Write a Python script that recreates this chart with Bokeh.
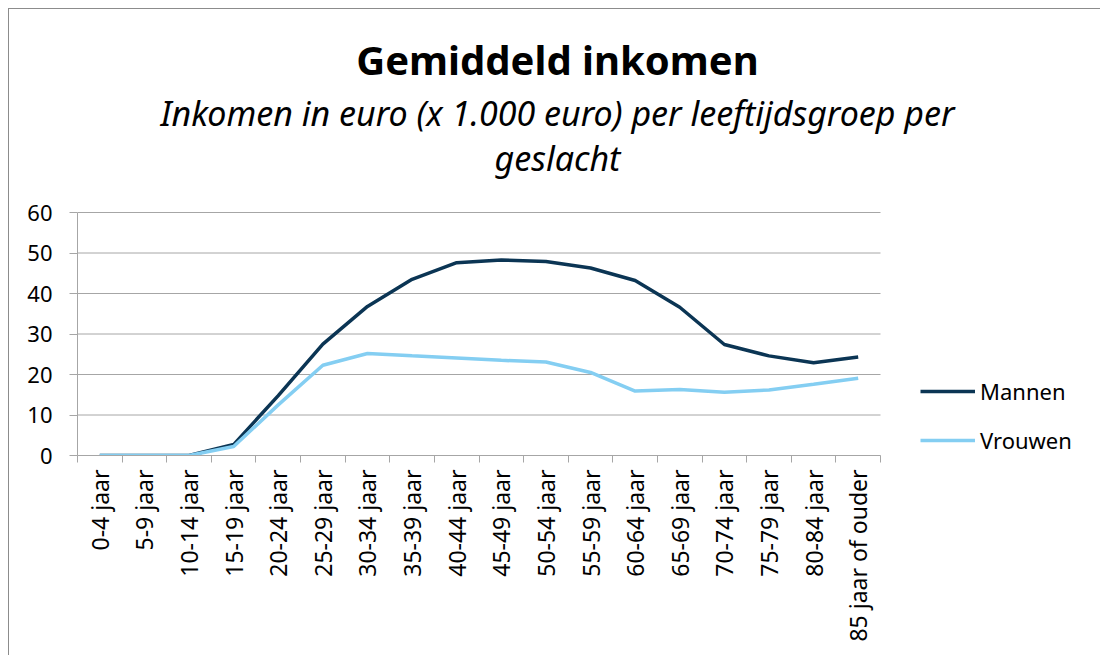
from math import pi
from bokeh.plotting import figure
from bokeh.models import (Range1d, FixedTicker, Legend, LegendItem, Label)
from bokeh.embed import file_html
from bokeh.resources import INLINE

categories = ["0-4 jaar", "5-9 jaar", "10-14 jaar", "15-19 jaar", "20-24 jaar",
              "25-29 jaar", "30-34 jaar", "35-39 jaar", "40-44 jaar", "45-49 jaar",
              "50-54 jaar", "55-59 jaar", "60-64 jaar", "65-69 jaar", "70-74 jaar",
              "75-79 jaar", "80-84 jaar", "85 jaar of ouder"]
mannen = [0.0, 0.0, 0.0, 2.7, 14.8, 27.5, 36.8, 43.5, 47.6, 48.3, 47.9, 46.3,
          43.2, 36.6, 27.4, 24.6, 22.9, 24.3]
vrouwen = [0.0, 0.0, 0.0, 2.2, 12.5, 22.3, 25.2, 24.6, 24.1, 23.5, 23.1, 20.5,
           15.9, 16.3, 15.6, 16.2, 17.6, 19.1]
y_ticks = [0, 10, 20, 30, 40, 50, 60]
title = "Gemiddeld inkomen"
subtitle_lines = ["Inkomen in euro (x 1.000 euro) per leeftijdsgroep per", "geslacht"]

FONT = "Noto Sans"
GRID = "#a6a6a6"

n = len(categories)
xs = [i + 0.5 for i in range(n)]
Y_MAX = y_ticks[-1]

# layout constants (pixels)
PLOT_W = 803          # width of the category area
EXTRA_W = 200         # room on the right for the legend
FRAME_W = PLOT_W + EXTRA_W
PLOT_H = 243          # height of the 0-60 area
TOP_H = 203           # room above the plot area for the titles
FRAME_H = PLOT_H + TOP_H
PX_X = PLOT_W / n     # px per category
PX_Y = PLOT_H / Y_MAX  # px per unit

p = figure(frame_width=FRAME_W, frame_height=FRAME_H, output_backend="svg",
           toolbar_location=None, title=None,
           x_range=Range1d(0, FRAME_W / PX_X), y_range=Range1d(0, FRAME_H / PX_Y),
           min_border_left=68, min_border_right=20, min_border_top=0,
           min_border_bottom=200)
p.styles = {"margin-left": "8px", "margin-top": "8px",
            "border-left": "1px solid #8c8c8c", "border-top": "1px solid #8c8c8c"}
p.outline_line_color = None
p.background_fill_color = "white"
p.border_fill_color = "white"

# titles: centre 480 px right of the plot's left edge; baselines above plot top
cx = 480 / PX_X
p.add_layout(Label(x=cx, y=Y_MAX + 153 / PX_Y, text=title, text_font=FONT,
                   text_font_size="40px", text_font_style="bold",
                   text_color="#000000", text_align="center",
                   text_baseline="alphabetic"))
p.add_layout(Label(x=cx, y=Y_MAX + 100 / PX_Y, text=subtitle_lines[0], text_font=FONT,
                   text_font_size="34px", text_font_style="italic",
                   text_color="#000000", text_align="center",
                   text_baseline="alphabetic"))
p.add_layout(Label(x=cx, y=Y_MAX + 55 / PX_Y, text=subtitle_lines[1], text_font=FONT,
                   text_font_size="34px", text_font_style="italic",
                   text_color="#000000", text_align="center",
                   text_baseline="alphabetic"))

# horizontal gridlines limited to the category area
p.segment(x0=[0] * len(y_ticks), x1=[n] * len(y_ticks), y0=y_ticks, y1=y_ticks,
          line_color=GRID, line_width=1)

l1 = p.line(xs, mannen, line_color="#0b3554", line_width=3.5)
l2 = p.line(xs, vrouwen, line_color="#84cef2", line_width=3.5)

# x axis
p.xaxis.bounds = (0, n)
p.xaxis.ticker = FixedTicker(ticks=xs, minor_ticks=list(range(n + 1)))
p.xaxis.major_label_overrides = {x: c for x, c in zip(xs, categories)}
p.xaxis.major_label_orientation = pi / 2
p.xaxis.major_tick_line_color = None
p.xaxis.minor_tick_line_color = GRID
p.xaxis.minor_tick_in = 0
p.xaxis.minor_tick_out = 7
p.xaxis.axis_line_color = GRID
p.xaxis.major_label_standoff = 7
p.xaxis.major_label_text_font = FONT
p.xaxis.major_label_text_font_size = "23px"
p.xaxis.major_label_text_color = "#000000"

# y axis
p.yaxis.bounds = (0, Y_MAX)
p.yaxis.ticker = FixedTicker(ticks=y_ticks)
p.yaxis.minor_tick_line_color = None
p.yaxis.major_tick_in = 0
p.yaxis.major_tick_out = 8
p.yaxis.major_tick_line_color = GRID
p.yaxis.axis_line_color = GRID
p.yaxis.major_label_standoff = 17
p.yaxis.major_label_text_font = FONT
p.yaxis.major_label_text_font_size = "22px"
p.yaxis.major_label_text_color = "#000000"

p.xgrid.grid_line_color = None
p.ygrid.grid_line_color = None

legend = Legend(items=[LegendItem(label="Mannen", renderers=[l1]),
                       LegendItem(label="Vrouwen", renderers=[l2])],
                location=(843, 0), orientation="vertical")
legend.border_line_color = None
legend.background_fill_alpha = 0
legend.label_text_font = FONT
legend.label_text_font_size = "22px"
legend.label_text_color = "#000000"
legend.glyph_width = 55
legend.glyph_height = 24
legend.label_height = 24
legend.label_standoff = 5
legend.spacing = 19
legend.padding = 0
legend.margin = 0
p.add_layout(legend, "center")

open("out.html", "w").write(file_html(p, INLINE))
